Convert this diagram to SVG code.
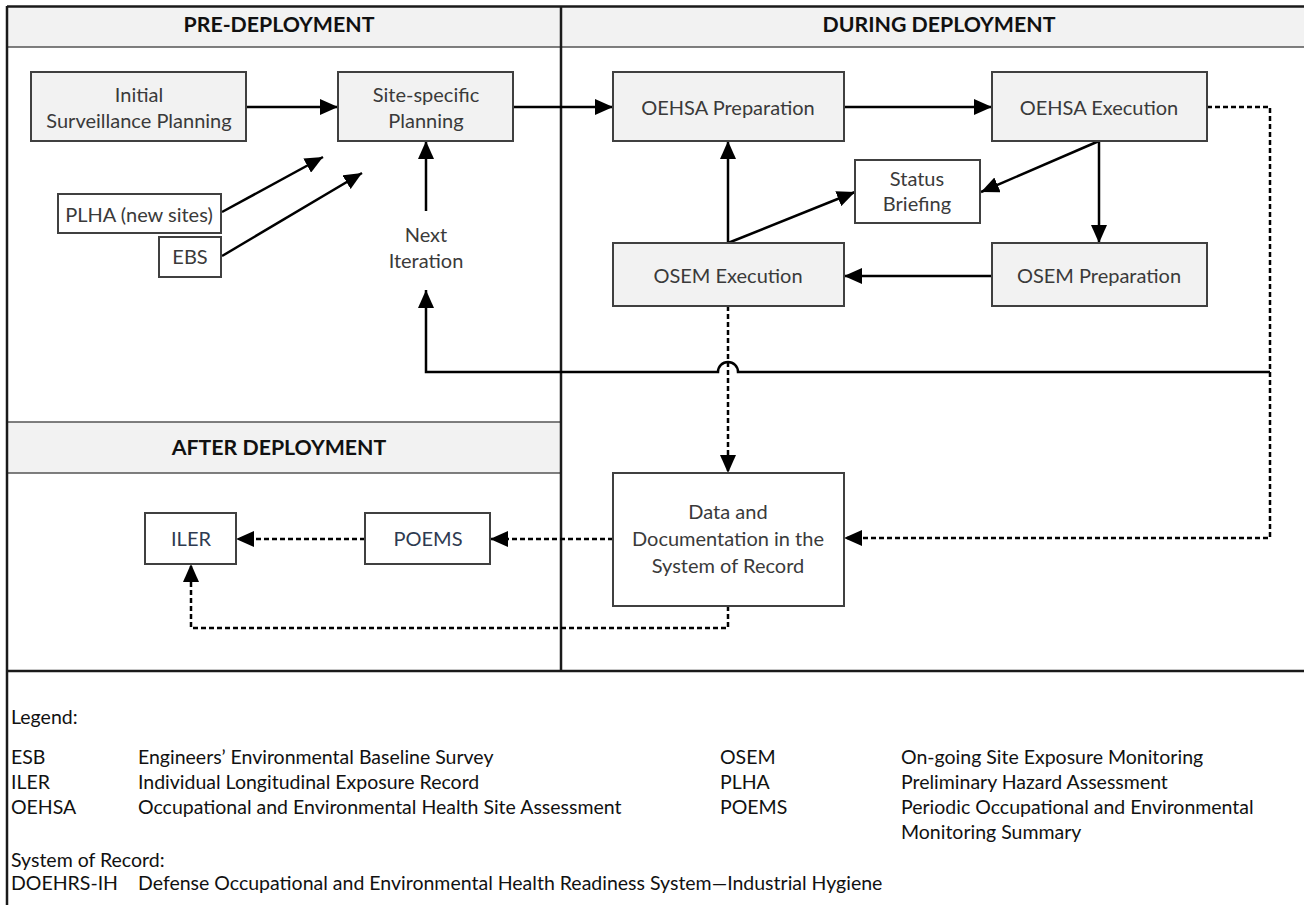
<svg xmlns="http://www.w3.org/2000/svg" width="1304" height="905" viewBox="0 0 1304 905">
  <style>
    .frame { fill: none; stroke: #1a1a1a; stroke-width: 2.5; }
    .rule { fill: none; stroke: #555; stroke-width: 1.5; }
    .band { fill: #f2f2f2; stroke: none; }
    .box { fill: #f2f2f2; stroke: #404040; stroke-width: 2; }
    .plain { fill: #ffffff; stroke: #404040; stroke-width: 2; }
    .hdr { font-family: Lato, "Open Sans", sans-serif; font-weight: bold; font-size: 21.3px; fill: #111; text-anchor: middle; }
    .lbl { font-family: Lato, "Open Sans", sans-serif; font-size: 20px; fill: #3a3a3a; text-anchor: middle; }
    .lbl2 { font-family: Lato, "Open Sans", sans-serif; font-size: 20px; fill: #2e3a50; text-anchor: middle; }
    .leg { font-family: Lato, "Open Sans", sans-serif; font-size: 19.5px; fill: #111; }
    .flow { fill: none; stroke: #000; stroke-width: 2.5; marker-end: url(#head); }
    .dash-arrow { fill: none; stroke: #000; stroke-width: 2.5; stroke-dasharray: 5 3; marker-end: url(#head); }
  </style>
  <defs>
    <marker id="head" markerUnits="userSpaceOnUse" markerWidth="18" markerHeight="16" refX="18" refY="8" orient="auto">
      <path d="M0,0 L18,8 L0,16 Z" fill="#000"/>
    </marker>
  </defs>

  <rect width="1304" height="905" fill="#ffffff"/>

  <!-- phase bands and frame -->
  <g id="frame">
    <rect class="band" x="7" y="7" width="1297" height="40"/>
    <rect class="band" x="7" y="422" width="554" height="51"/>
    <line class="rule" x1="7" y1="47" x2="1304" y2="47"/>
    <line class="rule" x1="7" y1="422" x2="561" y2="422"/>
    <line class="rule" x1="7" y1="473" x2="561" y2="473"/>
    <line class="frame" x1="561" y1="7" x2="561" y2="671"/>
    <line class="frame" x1="7" y1="671" x2="1304" y2="671"/>
    <line class="frame" x1="7" y1="6.5" x2="1304" y2="6.5"/>
    <line class="frame" x1="7" y1="6" x2="7" y2="905"/>
    <text class="hdr" x="279" y="32">PRE-DEPLOYMENT</text>
    <text class="hdr" x="939" y="32">DURING DEPLOYMENT</text>
    <text class="hdr" x="279" y="455">AFTER DEPLOYMENT</text>
  </g>

  <!-- connectors -->
  <g id="connectors">
    <path class="flow" d="M246,107 H338"/>
    <path class="flow" d="M222,212 L323,157"/>
    <path class="flow" d="M222,256 L362,173"/>
    <path class="flow" d="M426,211 V141"/>
    <path class="flow" d="M1270,372 H738 A10,10 0 0 0 718,372 H426 V290"/>
    <path class="flow" d="M513,107 H613"/>
    <path class="flow" d="M844,107 H992"/>
    <path class="flow" d="M1099,141 V243"/>
    <path class="flow" d="M1099,141 L981,192"/>
    <path class="flow" d="M992,276 H844"/>
    <path class="flow" d="M728,243 V141"/>
    <path class="flow" d="M728,243 L855,192"/>
    <path class="dash-arrow" d="M1207,107 H1270 V538 H844"/>
    <path class="dash-arrow" d="M728,306 V473"/>
    <path class="dash-arrow" d="M613,539 H490"/>
    <path class="dash-arrow" d="M365,539 H236"/>
    <path class="dash-arrow" d="M728,606 V628 H191 V564"/>
  </g>

  <!-- pre-deployment -->
  <g id="initial-planning">
    <rect class="box" x="31" y="72" width="215" height="69"/>
    <text class="lbl" x="139" y="102">Initial</text>
    <text class="lbl" x="139" y="128">Surveillance Planning</text>
  </g>
  <g id="site-planning">
    <rect class="box" x="338" y="72" width="175" height="69"/>
    <text class="lbl" x="426" y="102">Site-specific</text>
    <text class="lbl" x="426" y="128">Planning</text>
  </g>
  <g id="plha">
    <rect class="plain" x="58" y="194" width="163" height="39"/>
    <text class="lbl" x="139" y="222">PLHA (new sites)</text>
  </g>
  <g id="ebs">
    <rect class="plain" x="159" y="237" width="62" height="40"/>
    <text class="lbl" x="190" y="264">EBS</text>
  </g>
  <g id="next-iteration">
    <text class="lbl" x="426" y="242">Next</text>
    <text class="lbl" x="426" y="268">Iteration</text>
  </g>

  <!-- during deployment -->
  <g id="oehsa-prep">
    <rect class="box" x="613" y="72" width="231" height="69"/>
    <text class="lbl" x="728" y="115">OEHSA Preparation</text>
  </g>
  <g id="oehsa-exec">
    <rect class="box" x="992" y="72" width="215" height="69"/>
    <text class="lbl" x="1099" y="115">OEHSA Execution</text>
  </g>
  <g id="status-briefing">
    <rect class="plain" x="855" y="160" width="125" height="63"/>
    <text class="lbl" x="917" y="186">Status</text>
    <text class="lbl" x="917" y="211">Briefing</text>
  </g>
  <g id="osem-exec">
    <rect class="box" x="613" y="243" width="231" height="63"/>
    <text class="lbl" x="728" y="283">OSEM Execution</text>
  </g>
  <g id="osem-prep">
    <rect class="box" x="992" y="243" width="215" height="63"/>
    <text class="lbl" x="1099" y="283">OSEM Preparation</text>
  </g>
  <g id="system-of-record">
    <rect class="plain" x="613" y="473" width="231" height="133"/>
    <text class="lbl" x="728" y="519">Data and</text>
    <text class="lbl" x="728" y="546">Documentation in the</text>
    <text class="lbl" x="728" y="573">System of Record</text>
  </g>

  <!-- after deployment -->
  <g id="poems">
    <rect class="plain" x="365" y="513" width="125" height="51"/>
    <text class="lbl2" x="428" y="546">POEMS</text>
  </g>
  <g id="iler">
    <rect class="plain" x="145" y="513" width="91" height="51"/>
    <text class="lbl2" x="191" y="546">ILER</text>
  </g>

  <!-- legend -->
  <g id="legend">
    <text class="leg" x="11" y="724">Legend:</text>
    <text class="leg" x="11" y="764">ESB</text>
    <text class="leg" x="138" y="764">Engineers’ Environmental Baseline Survey</text>
    <text class="leg" x="11" y="789">ILER</text>
    <text class="leg" x="138" y="789">Individual Longitudinal Exposure Record</text>
    <text class="leg" x="11" y="814">OEHSA</text>
    <text class="leg" x="138" y="814">Occupational and Environmental Health Site Assessment</text>
    <text class="leg" x="720" y="764">OSEM</text>
    <text class="leg" x="901" y="764">On-going Site Exposure Monitoring</text>
    <text class="leg" x="720" y="789">PLHA</text>
    <text class="leg" x="901" y="789">Preliminary Hazard Assessment</text>
    <text class="leg" x="720" y="814">POEMS</text>
    <text class="leg" x="901" y="814">Periodic Occupational and Environmental</text>
    <text class="leg" x="901" y="839">Monitoring Summary</text>
    <text class="leg" x="11" y="867">System of Record:</text>
    <text class="leg" x="11" y="890">DOEHRS-IH</text>
    <text class="leg" x="138" y="890">Defense Occupational and Environmental Health Readiness System—Industrial Hygiene</text>
  </g>
</svg>
